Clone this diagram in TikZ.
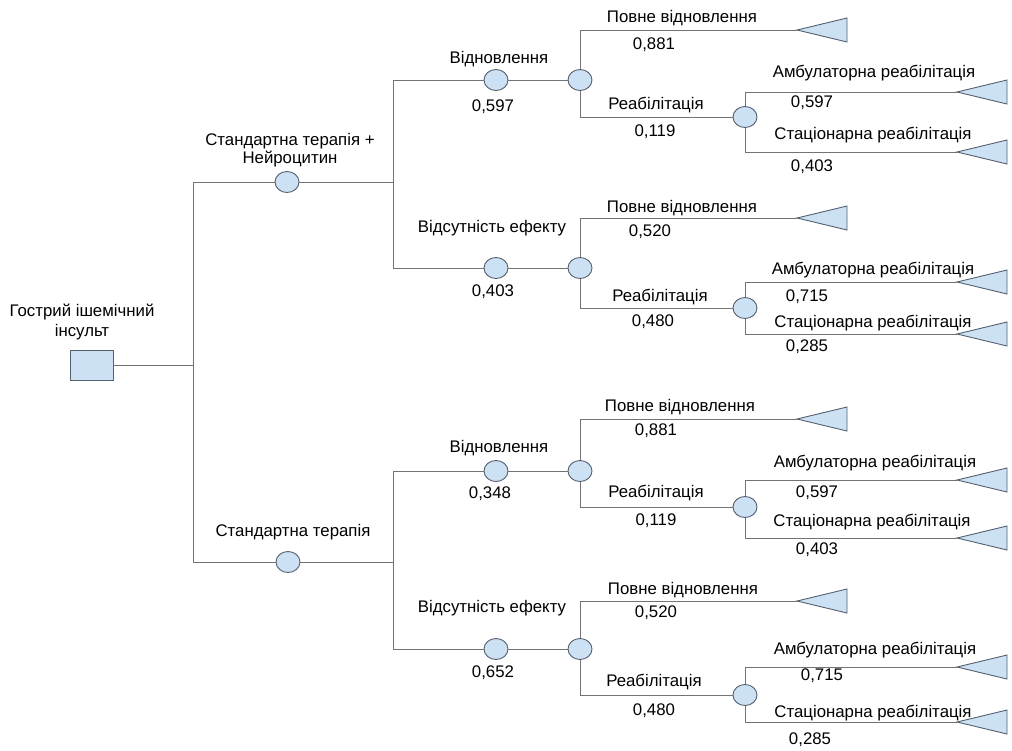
\documentclass[tikz,border=0pt]{standalone}
\usepackage{fontspec}
\setmainfont{Liberation Sans}
\usetikzlibrary{shapes.geometric}
\definecolor{nfill}{RGB}{205,225,245}
\definecolor{lcol}{RGB}{115,115,115}
\definecolor{bcol}{RGB}{85,95,110}
\newcommand\mygroup[6]{%
  % #1 id, #2 Y, #3 Yt, #4 Yb, #5 Ya, #6 Ys
  \coordinate (#1j) at (393,#2);
  \node[chance] (#1p) at (496,#2) {};
  \node[chance] (#1c) at (580,#2) {};
  \node[chance] (#1r) at (745,#4) {};
  \coordinate (#1t) at (797,#3);
  \coordinate (#1a) at (957,#5);
  \coordinate (#1s) at (957,#6);
  \draw[ln] (#1j) -- (#1p) -- (#1c);
  \draw[ln] (#1c) |- (#1t);
  \draw[ln] (#1c) |- (#1r);
  \draw[ln] (#1r) |- (#1a);
  \draw[ln] (#1r) |- (#1s);
  \draw[termtri] (#1t) -- ++(50,-12) -- ++(0,24) -- cycle;
  \draw[termtri] (#1a) -- ++(50,-12) -- ++(0,24) -- cycle;
  \draw[termtri] (#1s) -- ++(50,-12) -- ++(0,24) -- cycle;
}
\begin{document}
\begin{tikzpicture}[x=1pt,y=-1pt,
  ln/.style={draw=lcol, line width=1pt},
  chance/.style={ellipse, draw=bcol, fill=nfill, line width=0.9pt, minimum width=24pt, minimum height=21pt, inner sep=0pt},
  decbox/.style={rectangle, draw=bcol, fill=nfill, line width=0.9pt, minimum width=43pt, minimum height=30pt, inner sep=0pt},
  termtri/.style={draw=bcol, fill=nfill, line width=0.9pt},
  lab/.style={font=\fontsize{16.8}{20}\selectfont, inner sep=0pt, align=center}]
\useasboundingbox (0,0) rectangle (1012,750);

% root
\node[decbox] (root) at (91.5,365) {};
\coordinate (j0) at (193,365);
\coordinate (j0a) at (193,182);
\coordinate (j0b) at (193,562);
\draw[ln] (root) -- (j0);
\draw[ln] (j0a) -- (j0b);

% level 1
\node[chance] (A) at (287,182) {};
\node[chance] (B) at (288,562) {};
\coordinate (jA) at (393,182);
\coordinate (jB) at (393,562);
\draw[ln] (j0a) -- (A) -- (jA);
\draw[ln] (j0b) -- (B) -- (jB);

% level 2 groups
\mygroup{g1}{80}{30}{117}{92}{152}
\mygroup{g2}{268}{218}{308}{282}{334}
\mygroup{g3}{471}{419}{507}{480}{538}
\mygroup{g4}{649}{601}{695}{667}{722}
\draw[ln] (g1j) -- (g2j);
\draw[ln] (g3j) -- (g4j);

% labels
\node[lab] (lroot) at (82,322) {Гострий ішемічний\\інсульт};
\node[lab, font=\fontsize{16.8}{17.5}\selectfont] (lA) at (290,150) {Стандартна терапія +\\Нейроцитин};
\node[lab] (lB) at (293,532) {Стандартна терапія};

\node[lab] (g1n) at (499,59) {Відновлення};
\node[lab] (g1q) at (493,107) {0,597};
\node[lab] (g2n) at (492,228) {Відсутність ефекту};
\node[lab] (g2q) at (493,292) {0,403};
\node[lab] (g3n) at (499,448) {Відновлення};
\node[lab] (g3q) at (490,494) {0,348};
\node[lab] (g4n) at (492,608) {Відсутність ефекту};
\node[lab] (g4q) at (493,673) {0,652};

\node[lab] (g1tn) at (682,18) {Повне відновлення};
\node[lab] (g1tq) at (654,45) {0,881};
\node[lab] (g1rn) at (656,105) {Реабілітація};
\node[lab] (g1rq) at (655,132) {0,119};
\node[lab] (g1an) at (874,73) {Амбулаторна реабілітація};
\node[lab] (g1aq) at (812,103) {0,597};
\node[lab] (g1sn) at (873,135) {Стаціонарна реабілітація};
\node[lab] (g1sq) at (812,167) {0,403};

\node[lab] (g2tn) at (682,208) {Повне відновлення};
\node[lab] (g2tq) at (650,232) {0,520};
\node[lab] (g2rn) at (660,297) {Реабілітація};
\node[lab] (g2rq) at (653,322) {0,480};
\node[lab] (g2an) at (873,270) {Амбулаторна реабілітація};
\node[lab] (g2aq) at (807,297) {0,715};
\node[lab] (g2sn) at (873,323) {Стаціонарна реабілітація};
\node[lab] (g2sq) at (807,347) {0,285};

\node[lab] (g3tn) at (680,407) {Повне відновлення};
\node[lab] (g3tq) at (656,431) {0,881};
\node[lab] (g3rn) at (656,493) {Реабілітація};
\node[lab] (g3rq) at (656,521) {0,119};
\node[lab] (g3an) at (875,463) {Амбулаторна реабілітація};
\node[lab] (g3aq) at (817,493) {0,597};
\node[lab] (g3sn) at (872,522) {Стаціонарна реабілітація};
\node[lab] (g3sq) at (817,550) {0,403};

\node[lab] (g4tn) at (683,590) {Повне відновлення};
\node[lab] (g4tq) at (656,613) {0,520};
\node[lab] (g4rn) at (654,682) {Реабілітація};
\node[lab] (g4rq) at (654,711) {0,480};
\node[lab] (g4an) at (875,650) {Амбулаторна реабілітація};
\node[lab] (g4aq) at (822,676) {0,715};
\node[lab] (g4sn) at (873,713) {Стаціонарна реабілітація};
\node[lab] (g4sq) at (810,740) {0,285};
\end{tikzpicture}
\end{document}
